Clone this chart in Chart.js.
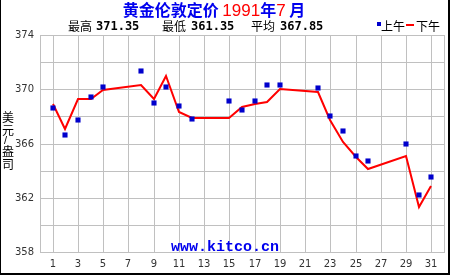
<!DOCTYPE html>
<html>
<head>
<meta charset="utf-8">
<script src="https://cdn.jsdelivr.net/npm/chart.js@4.4.1/dist/chart.umd.min.js"></script>
<style>
  html, body { margin: 0; padding: 0; background: #fff; }
  #wrap { position: relative; width: 450px; height: 275px; overflow: hidden; }
  #c { position: absolute; left: 0; top: 0; }
  .t { position: absolute; white-space: nowrap; line-height: 1; }
  .cjk { font-family: "Noto Sans CJK SC", sans-serif; }
  .num { font-family: "DejaVu Sans Mono", monospace; font-weight: bold; font-size: 12px; color: #000; }
  #frame { position: absolute; left: 0; top: 0; width: 447px; height: 273px;
           border-left: 1px solid #000; border-right: 2px solid #000; border-bottom: 2px solid #000; box-sizing: content-box; pointer-events: none; }
</style>
</head>
<body>
<div id="wrap">
  <canvas id="c" width="450" height="275"></canvas>

  <div class="t cjk" id="title" style="left:0; width:428px; top:1px; text-align:center; font-size:16px; font-weight:bold; color:#0000EE;">
    黄金伦敦定价 <span style="color:#FF0000; font-family:'Liberation Sans',sans-serif; font-weight:normal; font-size:17px;">1991</span>年<span style="color:#FF0000; font-family:'Liberation Sans',sans-serif; font-weight:normal; font-size:17px;">7</span>&nbsp;月
  </div>

  <div class="t cjk" style="left:68px; top:20px; font-size:12px; color:#000;">最高</div>
  <div class="t num" style="left:96px; top:20px;" id="hi">371.35</div>
  <div class="t cjk" style="left:162px; top:20px; font-size:12px; color:#000;">最低</div>
  <div class="t num" style="left:191px; top:20px;" id="lo">361.35</div>
  <div class="t cjk" style="left:251px; top:20px; font-size:12px; color:#000;">平均</div>
  <div class="t num" style="left:280px; top:20px;" id="avg">367.85</div>

  <div class="t" style="left:377px; top:22px; width:4px; height:4px; background:#0000CC;"></div>
  <div class="t cjk" style="left:381px; top:20px; font-size:12px; color:#000;">上午</div>
  <div class="t" style="left:406px; top:24px; width:8px; height:2px; background:#FF0000;"></div>
  <div class="t cjk" style="left:416px; top:20px; font-size:12px; color:#000;">下午</div>

  <div class="t cjk" style="left:2px; top:111px; font-size:12px; color:#000;">美</div>
  <div class="t cjk" style="left:2px; top:124px; font-size:12px; color:#000;">元</div>
  <div class="t" style="left:4px; top:135px; font-size:11px; font-family:'Liberation Sans',sans-serif; color:#000;">/</div>
  <div class="t cjk" style="left:2px; top:145px; font-size:12px; color:#000;">盎</div>
  <div class="t cjk" style="left:2px; top:158px; font-size:12px; color:#000;">司</div>

  <div class="t" style="left:0; width:450px; text-align:center; top:240px; font-family:'Liberation Mono',monospace; font-weight:bold; font-size:15px; color:#0000EE;">www.kitco.cn</div>

  <div id="frame"></div>
</div>
<script>
// ---- data ----
const days = [1, 2, 3, 4, 5, 8, 9, 10, 11, 12, 15, 16, 17, 18, 19, 22, 23, 24, 25, 26, 29, 30, 31];
const amPrices = [368.6, 366.6, 367.7, 369.4, 370.2, 371.35, 368.95, 370.15, 368.8, 367.8, 369.1, 368.45, 369.15, 370.3, 370.3, 370.1, 368.0, 366.95, 365.05, 364.7, 365.95, 362.2, 363.55];
const pmPrices = [368.9, 367.1, 369.3, 369.3, 369.95, 370.3, 369.25, 370.95, 368.35, 367.9, 367.85, 368.7, 368.9, 369.05, 370.0, 369.8, 367.75, 366.1, 365.0, 364.1, 365.1, 361.35, 362.9];
const xTickDays = [1, 3, 5, 7, 9, 11, 13, 15, 17, 19, 21, 23, 25, 27, 29, 31];
const yLabelValues = [358, 362, 366, 370, 374];

const amData = days.map((d, i) => ({ x: d, y: amPrices[i] }));
const pmData = days.map((d, i) => ({ x: d, y: pmPrices[i] }));

const gridColor = '#c0c0c0';
const tickFont = { family: 'DejaVu Sans', size: 10 };
const tickColor = '#333';

new Chart(document.getElementById('c'), {
  type: 'scatter',
  data: {
    datasets: [
      {
        label: '上午',
        data: amData,
        showLine: false,
        pointStyle: 'rect',
        pointRadius: 3.6,
        pointHoverRadius: 3.6,
        backgroundColor: '#0000CC',
        borderWidth: 0,
        order: 0
      },
      {
        label: '下午',
        data: pmData,
        showLine: true,
        borderColor: '#FF0000',
        borderWidth: 2,
        pointRadius: 0,
        pointHoverRadius: 0,
        tension: 0,
        fill: false,
        order: 1
      }
    ]
  },
  options: {
    responsive: false,
    animation: false,
    events: [],
    layout: { padding: { top: 35, right: 6, left: 0, bottom: 0 } },
    plugins: { legend: { display: false }, tooltip: { enabled: false }, title: { display: false } },
    scales: {
      x: {
        type: 'linear',
        min: 0,
        max: 32,
        alignToPixels: true,
        afterBuildTicks: (s) => { s.ticks = xTickDays.concat([32]).map(v => ({ value: v })); },
        afterFit: (s) => { s.height = 23; },
        grid: { color: gridColor, lineWidth: 1, drawTicks: false },
        border: { color: gridColor, width: 1 },
        ticks: {
          autoSkip: false, maxRotation: 0, padding: 6, font: tickFont, color: tickColor,
          callback: (v) => (xTickDays.includes(v) ? String(v) : '')
        }
      },
      y: {
        type: 'linear',
        min: 358,
        max: 374,
        alignToPixels: true,
        afterFit: (s) => { s.width = 40; },
        grid: { color: gridColor, lineWidth: 1, drawTicks: false },
        border: { color: gridColor, width: 1 },
        ticks: {
          stepSize: 2, padding: 6, font: tickFont, color: tickColor,
          callback: (v) => (yLabelValues.includes(v) ? String(v) : '')
        }
      }
    }
  }
});
</script>
</body>
</html>
